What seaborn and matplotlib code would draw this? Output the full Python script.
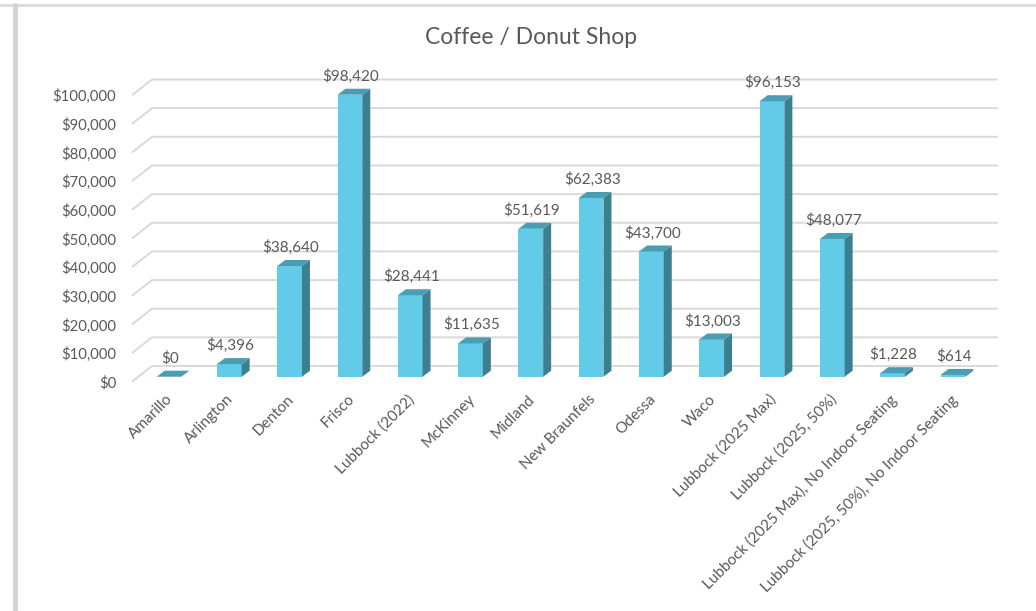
import numpy as np
import pandas as pd
import matplotlib
matplotlib.use("Agg")
import matplotlib.pyplot as plt
from matplotlib.patches import Polygon
from matplotlib.lines import Line2D
from matplotlib.transforms import ScaledTranslation
from matplotlib.ticker import FuncFormatter
import seaborn as sns

# ---- data -----------------------------------------------------------------
locations = [
    "Amarillo", "Arlington", "Denton", "Frisco", "Lubbock (2022)", "McKinney",
    "Midland", "New Braunfels", "Odessa", "Waco", "Lubbock (2025 Max)",
    "Lubbock (2025, 50%)", "Lubbock (2025 Max), No Indoor Seating",
    "Lubbock (2025, 50%), No Indoor Seating",
]
revenue = [0, 4396, 38640, 98420, 28441, 11635, 51619, 62383, 43700, 13003,
           96153, 48077, 1228, 614]
y_ticks = [0, 10000, 20000, 30000, 40000, 50000, 60000, 70000, 80000, 90000,
           100000]
title = "Coffee / Donut Shop"

# ---- styling --------------------------------------------------------------
FRONT = "#61cbe8"
SIDE = "#3c7f90"
TOP = "#4a9db3"
GRID = "#d9d9d9"
TEXT = "#595959"

W, H, DPI = 1036, 611, 100

# pseudo-3D geometry (pixels)
SLOT = 60.3          # spacing between columns
FIRST = 169.0        # centre of first column
BASE = 376.7         # baseline of column fronts
PX_PER_USD = 0.002865
DEPTH_X, DEPTH_Y = 8, 6          # column depth
WALL_X0, WALL_X1 = 152, 998      # back wall extent
FLOOR_X = 132                    # front edge of the floor
WALL_UP, FLOOR_DOWN = 10.7, 5.0  # back wall / floor front relative to columns


def px_x(px):
    return -0.5 + (px - (FIRST - SLOT / 2)) / SLOT


def px_y(py):
    return (BASE - py) / PX_PER_USD


sns.set_theme(style="white")
plt.rcParams["font.family"] = ["Lato", "DejaVu Sans"]

df = pd.DataFrame({"location": locations, "revenue": revenue})

fig = plt.figure(figsize=(W / DPI, H / DPI), dpi=DPI)
fig.patch.set_facecolor("white")

left, right, top, bottom = 130, 1005, 62, 388
ax = fig.add_axes([left / W, 1 - bottom / H, (right - left) / W, (bottom - top) / H])
ax.set_facecolor("none")

sns.barplot(data=df, x="location", y="revenue", color=FRONT, saturation=1,
            width=0.41, errorbar=None, linewidth=0, zorder=3, ax=ax)

ax.set_xlim(px_x(left), px_x(right))
ax.set_ylim(px_y(bottom), px_y(top))

dx = DEPTH_X / SLOT
dy = DEPTH_Y / PX_PER_USD

# side and top faces of each column, value label above
for p, v in zip(list(ax.patches), revenue):
    x0, w, h = p.get_x(), p.get_width(), p.get_height()
    side = [(x0 + w, 0), (x0 + w, h), (x0 + w + dx, h + dy), (x0 + w + dx, dy)]
    topf = [(x0, h), (x0 + w, h), (x0 + w + dx, h + dy), (x0 + dx, h + dy)]
    ax.add_patch(Polygon(side, closed=True, facecolor=SIDE, edgecolor="none", zorder=3))
    ax.add_patch(Polygon(topf, closed=True, facecolor=TOP, edgecolor="none", zorder=4))
    ax.annotate(f"${v:,.0f}", xy=(x0 + w / 2, h + dy), xytext=(1, 5),
                textcoords="offset pixels", ha="center", va="bottom",
                fontsize=11, color=TEXT, zorder=5)

# back-wall gridlines with the floor diagonal on the left
up = WALL_UP / PX_PER_USD
down = FLOOR_DOWN / PX_PER_USD
for v in y_ticks:
    ax.plot([px_x(FLOOR_X), px_x(WALL_X0), px_x(WALL_X1)],
            [v - down, v + up, v + up], color=GRID, lw=1.4,
            solid_capstyle="butt", zorder=1, clip_on=False)

# axes text
ax.set_yticks(y_ticks)
ax.yaxis.set_major_formatter(FuncFormatter(lambda v, _: f"${v:,.0f}"))
ax.tick_params(axis="y", length=0, pad=10, labelsize=10.7, labelcolor=TEXT)
ax.tick_params(axis="x", length=0, pad=3, labelsize=11, labelcolor=TEXT)
ax.set_xticks(range(len(locations)))
ax.set_xticklabels(locations, rotation=45, ha="right", rotation_mode="anchor")
for lab in ax.get_yticklabels():
    lab.set_transform(lab.get_transform() +
                      ScaledTranslation(0, -FLOOR_DOWN / DPI, fig.dpi_scale_trans))
for lab in ax.get_xticklabels():
    lab.set_transform(lab.get_transform() +
                      ScaledTranslation(-3 / DPI, 0, fig.dpi_scale_trans))
ax.set_xlabel("")
ax.set_ylabel("")
for s in ax.spines.values():
    s.set_visible(False)
ax.grid(False)

fig.text(531 / W, 1 - 37 / H, title, ha="center", va="center",
         fontsize=16.5, color=TEXT)

# chart-area border
fig.add_artist(Line2D([0, 1], [1 - 5 / H, 1 - 5 / H], transform=fig.transFigure,
                      color="#dadada", lw=2))
fig.add_artist(Line2D([15 / W, 15 / W], [0, 1 - 5 / H], transform=fig.transFigure,
                      color="#d4d4d4", lw=3.5))

fig.savefig("out.png", dpi=DPI, facecolor="white")
